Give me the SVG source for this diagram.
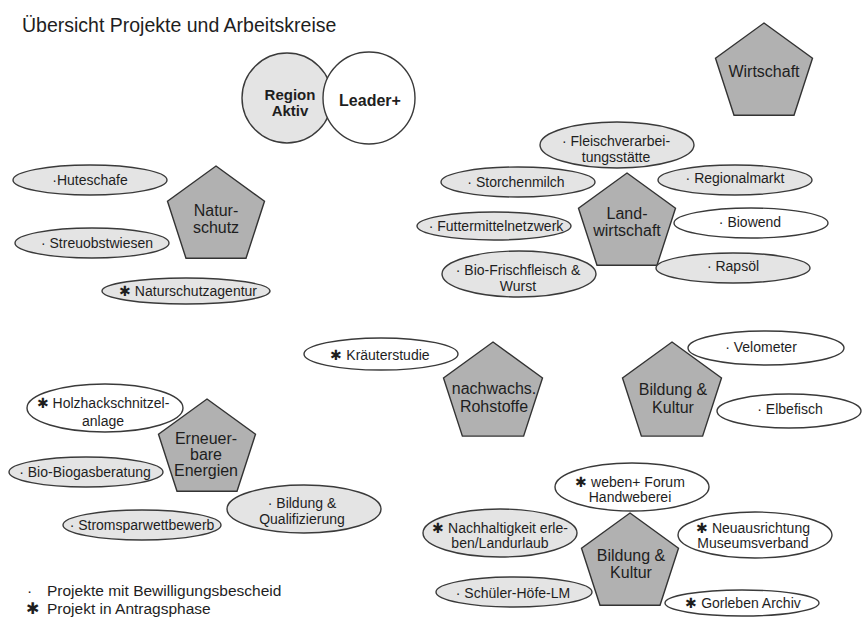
<svg xmlns="http://www.w3.org/2000/svg" width="862" height="617" viewBox="0 0 862 617">
<style>
text{font-family:"Liberation Sans",Arial,sans-serif;fill:#1e1e1e;text-anchor:middle}
.t{font-size:14px}
.p{font-size:16px}
.b{font-size:15px;font-weight:bold}
.g{fill:#e4e4e4;stroke:#3a3a3a;stroke-width:1.4}
.w{fill:#ffffff;stroke:#3a3a3a;stroke-width:1.4}
.pent{fill:#b1b1b1;stroke:#333;stroke-width:1.4}
.title{font-size:19.5px;text-anchor:start}
.leg{font-size:15.5px;text-anchor:start}
</style>
<rect width="862" height="617" fill="#fff"/>
<text class="title" x="22" y="32">Übersicht Projekte und Arbeitskreise</text>

<g id="region-aktiv"><circle class="g" cx="287" cy="98" r="45"/><text class="b" x="290" y="100">Region</text><text class="b" x="290" y="116">Aktiv</text></g>
<g id="leader"><circle class="w" cx="369" cy="98" r="46"/><text class="b" x="370" y="106" style="font-size:16px">Leader+</text></g>

<g id="connectors"></g>

<g id="naturschutz"><polygon class="pent" points="216,166 264.5,201.2 246,258.3 186,258.3 167.5,201.2"/><text class="p" x="216" y="216">Natur-</text><text class="p" x="216" y="233">schutz</text></g>
<g id="wirtschaft"><polygon class="pent" points="764,23 812.5,58.2 794,115.3 734,115.3 715.5,58.2"/><text class="p" x="764" y="77">Wirtschaft</text></g>
<g id="landwirtschaft"><polygon class="pent" points="627,173 675.5,208.2 657,265.3 597,265.3 578.5,208.2"/><text class="p" x="627" y="219">Land-</text><text class="p" x="627" y="236">wirtschaft</text></g>
<g id="nachwachs"><polygon class="pent" points="493,342 542.5,377.9 523.6,436.1 462.4,436.1 443.5,377.9"/><text class="p" x="494" y="394">nachwachs.</text><text class="p" x="494" y="412">Rohstoffe</text></g>
<g id="bildung-mitte"><polygon class="pent" points="672,342 721.5,377.9 702.6,436.1 641.4,436.1 622.5,377.9"/><text class="p" x="673" y="395">Bildung &amp;</text><text class="p" x="673" y="413">Kultur</text></g>
<g id="erneuerbare"><polygon class="pent" points="207,399 255.5,434.2 237,491.3 177,491.3 158.5,434.2"/><text class="p" x="206" y="444">Erneuer-</text><text class="p" x="206" y="460">bare</text><text class="p" x="206" y="476">Energien</text></g>
<g id="bildung-unten"><polygon class="pent" points="630,513 678.5,548.2 660,605.3 600,605.3 581.5,548.2"/><text class="p" x="631" y="561">Bildung &amp;</text><text class="p" x="631" y="578">Kultur</text></g>

<g id="huteschafe"><ellipse class="g" cx="90" cy="180" rx="77" ry="15"/><text class="t" x="90" y="185">·Huteschafe</text></g>
<g id="streuobstwiesen"><ellipse class="g" cx="92" cy="243" rx="77" ry="15"/><text class="t" x="97" y="248">· Streuobstwiesen</text></g>
<g id="naturschutzagentur"><ellipse class="g" cx="186" cy="291" rx="84" ry="13"/><text class="t" x="188" y="296">✱ Naturschutzagentur</text></g>

<g id="fleisch"><ellipse class="g" cx="617" cy="145" rx="77" ry="23"/><text class="t" x="616" y="146">· Fleischverarbei-</text><text class="t" x="616" y="162">tungsstätte</text></g>
<g id="storchenmilch"><ellipse class="g" cx="518" cy="182" rx="77" ry="15"/><text class="t" x="516" y="187">· Storchenmilch</text></g>
<g id="futtermittel"><ellipse class="g" cx="494" cy="226" rx="77" ry="14"/><text class="t" x="496" y="231">· Futtermittelnetzwerk</text></g>
<g id="biofrisch"><ellipse class="g" cx="519" cy="274" rx="77" ry="23"/><text class="t" x="518" y="275">· Bio-Frischfleisch &amp;</text><text class="t" x="518" y="291">Wurst</text></g>
<g id="regionalmarkt"><ellipse class="g" cx="735" cy="180" rx="77" ry="15"/><text class="t" x="735" y="183">· Regionalmarkt</text></g>
<g id="biowend"><ellipse class="w" cx="751" cy="223" rx="77" ry="15"/><text class="t" x="750" y="227">· Biowend</text></g>
<g id="rapsoel"><ellipse class="g" cx="733" cy="268" rx="77" ry="15"/><text class="t" x="733" y="271">· Rapsöl</text></g>

<g id="kraeuterstudie"><ellipse class="w" cx="381" cy="354" rx="77" ry="16"/><text class="t" x="380" y="360">✱ Kräuterstudie</text></g>
<g id="velometer"><ellipse class="w" cx="766" cy="348" rx="78" ry="17"/><text class="t" x="761" y="352">· Velometer</text></g>
<g id="elbefisch"><ellipse class="w" cx="789" cy="411" rx="72" ry="17"/><text class="t" x="790" y="414">· Elbefisch</text></g>

<g id="holzhack"><ellipse class="w" cx="105" cy="408" rx="78" ry="24"/><text class="t" x="103" y="408">✱ Holzhackschnitzel-</text><text class="t" x="103" y="426">anlage</text></g>
<g id="biogas"><ellipse class="g" cx="86" cy="472" rx="77" ry="15"/><text class="t" x="85" y="477">· Bio-Biogasberatung</text></g>
<g id="bildung-qual"><ellipse class="g" cx="304" cy="509" rx="77" ry="24"/><text class="t" x="302" y="508">· Bildung &amp;</text><text class="t" x="302" y="524">Qualifizierung</text></g>
<g id="stromspar"><ellipse class="g" cx="142" cy="525" rx="79" ry="15"/><text class="t" x="142" y="530">· Stromsparwettbewerb</text></g>

<g id="weben"><ellipse class="w" cx="632" cy="487" rx="77" ry="24"/><text class="t" x="630" y="487">✱ weben+ Forum</text><text class="t" x="630" y="502">Handweberei</text></g>
<g id="nachhaltigkeit"><ellipse class="g" cx="500" cy="533" rx="77" ry="24"/><text class="t" x="500" y="533">✱ Nachhaltigkeit erle-</text><text class="t" x="500" y="548">ben/Landurlaub</text></g>
<g id="neuausrichtung"><ellipse class="w" cx="755" cy="535" rx="77" ry="23"/><text class="t" x="753" y="533">✱ Neuausrichtung</text><text class="t" x="753" y="548">Museumsverband</text></g>
<g id="schueler"><ellipse class="g" cx="514" cy="592" rx="78" ry="15"/><text class="t" x="513" y="598">· Schüler-Höfe-LM</text></g>
<g id="gorleben"><ellipse class="w" cx="742" cy="603" rx="77" ry="13"/><text class="t" x="743" y="608">✱ Gorleben Archiv</text></g>

<g id="legende">
<text class="leg" x="27" y="596">·</text><text class="leg" x="47" y="596">Projekte mit Bewilligungsbescheid</text>
<text class="leg" x="26" y="614">✱</text><text class="leg" x="47" y="614">Projekt in Antragsphase</text>
</g>
</svg>
